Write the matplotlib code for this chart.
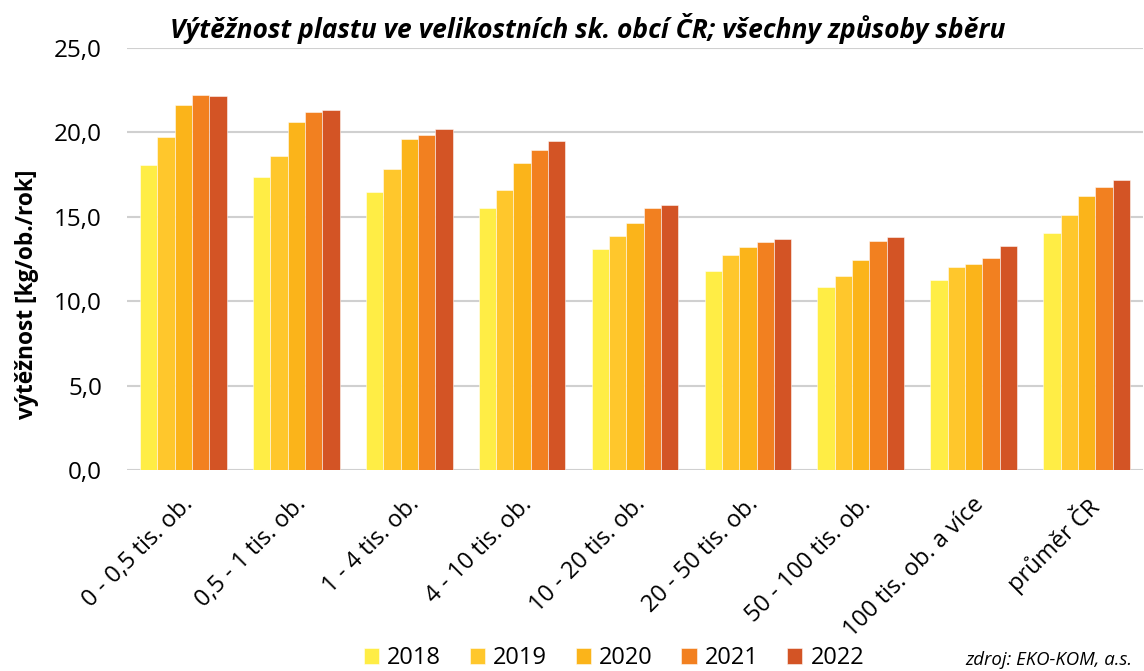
import matplotlib
matplotlib.use("Agg")
import matplotlib.pyplot as plt
import matplotlib.transforms as mtransforms
import numpy as np

plt.rcParams['font.family'] = ['Open Sans', 'DejaVu Sans']

categories = ["0 - 0,5 tis. ob.", "0,5 - 1 tis. ob.", "1 - 4 tis. ob.", "4 - 10 tis. ob.",
              "10 - 20 tis. ob.", "20 - 50 tis. ob.", "50 - 100 tis. ob.",
              "100 tis. ob. a více", "průměr ČR"]
years = ["2018", "2019", "2020", "2021", "2022"]
v2018 = [18.07, 17.34, 16.47, 15.52, 13.09, 11.77, 10.84, 11.26, 14.04]
v2019 = [19.73, 18.60, 17.83, 16.59, 13.84, 12.74, 11.51, 12.01, 15.09]
v2020 = [21.64, 20.62, 19.59, 18.19, 14.61, 13.21, 12.44, 12.22, 16.23]
v2021 = [22.22, 21.21, 19.86, 18.96, 15.50, 13.51, 13.55, 12.54, 16.77]
v2022 = [22.17, 21.33, 20.20, 19.47, 15.68, 13.68, 13.79, 13.25, 17.16]
series = [v2018, v2019, v2020, v2021, v2022]
colors = ["#FFED45", "#FFC72C", "#FBB41A", "#F28020", "#D35425"]
yticks = [0, 5, 10, 15, 20, 25]

fig = plt.figure(figsize=(11.44, 6.71), dpi=100)
ax = fig.add_axes([127/1144, 1-470/671, (1143-127)/1144, (470-48)/671])

x = np.arange(len(categories))
n = len(series)
total = 0.768
w = total / n
for i, (vals, c, yr) in enumerate(zip(series, colors, years)):
    ax.bar(x - total/2 + w*(i+0.5), vals, width=w, color=c, edgecolor=(1, 1, 1, 0.6),
           linewidth=0.6, label=yr, zorder=3)

ax.set_xlim(-0.5, len(categories)-0.5)
ax.set_ylim(0, 25)
ax.set_yticks(yticks)
ax.set_yticklabels([f"{t:.1f}".replace(".", ",") for t in yticks], fontsize=17.5)
ax.yaxis.grid(True, color="#d0d0d0", linewidth=1.5, zorder=0)
ax.set_axisbelow(True)
for s in ax.spines.values():
    s.set_visible(False)
ax.tick_params(axis='y', length=0, pad=18)
ax.tick_params(axis='x', length=0, pad=16)
ax.set_xticks(x)
ax.set_xticklabels(categories, rotation=45, ha='right', va='top', rotation_mode='anchor', fontsize=17)
for lbl in ax.get_xticklabels():
    lbl.set_transform(lbl.get_transform() + mtransforms.ScaledTranslation(-2/100, 0, fig.dpi_scale_trans))

ylab = fig.text(27/1144, 1-294/671, "výtěžnost [kg/ob./rok]", rotation=90, fontsize=15, fontweight='bold',
                ha='center', va='center')
# scale y-label so its length matches ~251 px
r = fig.canvas.get_renderer()
h = ylab.get_window_extent(r).height
ylab.set_fontsize(15 * 251 / h)

fig.text(588/1144, 1-28/671, "Výtěžnost plastu ve velikostních sk. obcí ČR; všechny způsoby sběru",
         fontsize=19, fontweight='bold', fontstyle='italic', ha='center', va='center')

leg = fig.legend(loc='center', bbox_to_anchor=(614/1144, 1-658/671), ncol=5, frameon=False,
                 fontsize=17, handlelength=0.65, handleheight=0.65, handletextpad=0.35,
                 columnspacing=1.2)
fig.text(1132/1144, 1-660/671, "zdroj: EKO-KOM, a.s.", fontsize=13.4, fontstyle='italic',
         ha='right', va='center')

fig.savefig("out.png", dpi=100)
